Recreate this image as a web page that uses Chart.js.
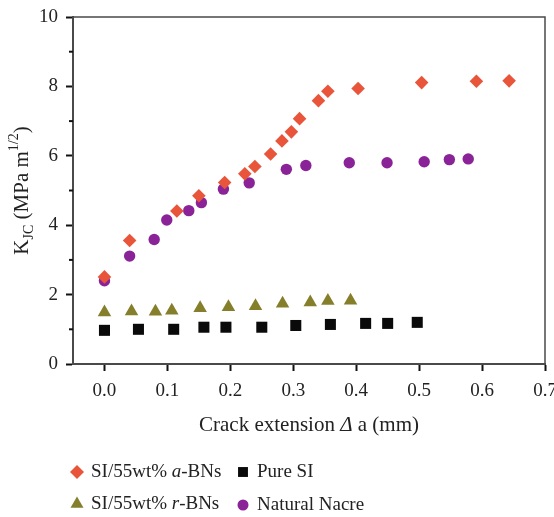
<!DOCTYPE html>
<html>
<head>
<meta charset="utf-8">
<script src="https://cdn.jsdelivr.net/npm/chart.js@4"></script>
<style>
  html, body { margin: 0; padding: 0; background: #fff; }
  #wrap { width: 554px; height: 517px; }
</style>
</head>
<body>
<div id="wrap"><canvas id="kjc" width="554" height="517"></canvas></div>
<script>
const ctx = document.getElementById('kjc');
const FONT = '"Liberation Serif", "DejaVu Serif", serif';

// tick labels
const xTicks = [0, 0.1, 0.2, 0.3, 0.4, 0.5, 0.6, 0.7];
const yTicks = [0, 2, 4, 6, 8, 10];
const yMinor = [1, 3, 5, 7, 9];

// SI/55wt% a-BNs
const aBNsX = [0, 0.040, 0.115, 0.150, 0.191, 0.223, 0.239, 0.264, 0.282, 0.297, 0.310, 0.340, 0.355, 0.403, 0.504, 0.591, 0.643];
const aBNsY = [2.51, 3.56, 4.41, 4.85, 5.23, 5.48, 5.69, 6.05, 6.43, 6.69, 7.07, 7.59, 7.86, 7.94, 8.11, 8.15, 8.16];
// Pure SI
const pureX = [0, 0.054, 0.110, 0.158, 0.193, 0.250, 0.304, 0.359, 0.415, 0.450, 0.497];
const pureY = [0.97, 1.00, 1.00, 1.06, 1.06, 1.06, 1.11, 1.14, 1.17, 1.17, 1.20];
// SI/55wt% r-BNs
const rBNsX = [0, 0.043, 0.081, 0.107, 0.152, 0.197, 0.240, 0.283, 0.327, 0.355, 0.391];
const rBNsY = [1.49, 1.52, 1.51, 1.54, 1.61, 1.64, 1.67, 1.74, 1.78, 1.82, 1.83];
// Natural Nacre
const nacreX = [0, 0.040, 0.079, 0.099, 0.134, 0.154, 0.189, 0.230, 0.289, 0.320, 0.389, 0.449, 0.508, 0.548, 0.578];
const nacreY = [2.40, 3.11, 3.59, 4.15, 4.42, 4.65, 5.04, 5.22, 5.61, 5.72, 5.80, 5.80, 5.83, 5.89, 5.91];

const orange = '#e8553a';
const black = '#0a0a0a';
const olive = '#857f2c';
const purple = '#8a2398';
const axisColor = '#4a4a4a';
const tickColor = '#111';
const textColor = '#222';

function pts(xs, ys) {
    return xs.map((x, i) => ({ x: x, y: ys[i] }));
}

// frame, minor ticks, axis titles and legend
const decor = {
    id: 'decor',
    afterDraw(chart) {
        const c = chart.ctx;
        const a = chart.chartArea;
        const ys = chart.scales.y;
        c.save();
        c.strokeStyle = axisColor;
        c.lineWidth = 1.5;
        c.beginPath();
        c.moveTo(a.left, a.top);
        c.lineTo(a.right, a.top);
        c.lineTo(a.right, a.bottom);
        c.stroke();
        c.strokeStyle = tickColor;
        c.lineWidth = 2;
        yMinor.forEach(v => {
            const py = ys.getPixelForValue(v);
            c.beginPath();
            c.moveTo(a.left - 4, py);
            c.lineTo(a.left, py);
            c.stroke();
        });

        c.fillStyle = textColor;
        c.textBaseline = 'alphabetic';

        // x title
        const parts = [
            ['Crack extension ', ''],
            ['\u0394', 'italic '],
            [' a (mm)', '']
        ];
        const xs = 21;
        let w = 0;
        parts.forEach(p => { c.font = p[1] + xs + 'px ' + FONT; w += c.measureText(p[0]).width; });
        let x = (a.left + a.right) / 2 - w / 2;
        parts.forEach(p => {
            c.font = p[1] + xs + 'px ' + FONT;
            c.fillText(p[0], x, 431);
            x += c.measureText(p[0]).width;
        });

        // y title: K_JC (MPa m^1/2)
        const yparts = [
            ['K', 21, 0],
            ['JC', 14, 5],
            [' (MPa m', 21, 0],
            ['1/2', 14, -10],
            [')', 21, 0]
        ];
        w = 0;
        yparts.forEach(p => { c.font = p[1] + 'px ' + FONT; w += c.measureText(p[0]).width; });
        c.translate(28, (a.top + a.bottom) / 2);
        c.rotate(-Math.PI / 2);
        x = -w / 2;
        yparts.forEach(p => {
            c.font = p[1] + 'px ' + FONT;
            c.fillText(p[0], x, p[2]);
            x += c.measureText(p[0]).width;
        });
        c.setTransform(1, 0, 0, 1, 0, 0);

        // legend
        const items = [
            { ds: 0, px: 77, py: 472, r: 7, parts: [['SI/55wt% ', ''], ['a', 'italic '], ['-BNs', '']] },
            { ds: 1, px: 243, py: 472, r: 7, parts: [['Pure SI', '']] },
            { ds: 2, px: 77, py: 504, r: 7.5, parts: [['SI/55wt% ', ''], ['r', 'italic '], ['-BNs', '']] },
            { ds: 3, px: 243, py: 505, r: 5.5, parts: [['Natural Nacre', '']] }
        ];
        items.forEach(it => {
            const d = chart.data.datasets[it.ds];
            c.fillStyle = d.backgroundColor;
            Chart.helpers.drawPoint(c, { pointStyle: d.pointStyle, radius: it.r, rotation: 0, borderWidth: 0 }, it.px, it.py);
            c.fillStyle = textColor;
            let tx = it.px + 14;
            it.parts.forEach(p => {
                c.font = p[1] + '19px ' + FONT;
                c.fillText(p[0], tx, it.py + 5);
                tx += c.measureText(p[0]).width;
            });
        });
        c.restore();
    }
};

new Chart(ctx, {
    type: 'scatter',
    data: {
        datasets: [
            { label: 'SI/55wt% a-BNs', data: pts(aBNsX, aBNsY), pointStyle: 'rectRot', pointRadius: 6.8, backgroundColor: orange, borderWidth: 0 },
            { label: 'Pure SI', data: pts(pureX, pureY), pointStyle: 'rect', pointRadius: 7.8, backgroundColor: black, borderWidth: 0 },
            { label: 'SI/55wt% r-BNs', data: pts(rBNsX, rBNsY), pointStyle: 'triangle', pointRadius: 7.8, backgroundColor: olive, borderWidth: 0 },
            { label: 'Natural Nacre', data: pts(nacreX, nacreY), pointStyle: 'circle', pointRadius: 5.7, backgroundColor: purple, borderWidth: 0 }
        ]
    },
    options: {
        responsive: false,
        animation: false,
        layout: { padding: { top: 17, right: 9, left: 0, bottom: 0 } },
        plugins: {
            legend: { display: false },
            tooltip: { enabled: false }
        },
        scales: {
            x: {
                type: 'linear',
                min: -0.05,
                max: 0.7,
                afterBuildTicks: s => { s.ticks = xTicks.map(v => ({ value: v })); },
                afterFit: s => { s.height = 153; s.paddingRight = 0; s.paddingLeft = 0; },
                grid: { drawOnChartArea: false, drawTicks: true, tickLength: 7, tickColor: tickColor, tickWidth: 2 },
                border: { color: axisColor, width: 2 },
                ticks: {
                    padding: 9,
                    color: textColor,
                    font: { family: FONT, size: 19 },
                    maxRotation: 0,
                    callback: v => Number(v).toFixed(1)
                }
            },
            y: {
                type: 'linear',
                min: 0,
                max: 10,
                afterBuildTicks: s => { s.ticks = yTicks.map(v => ({ value: v })); },
                afterFit: s => { s.width = 73; s.paddingTop = 0; s.paddingBottom = 0; },
                grid: { drawOnChartArea: false, drawTicks: true, tickLength: 7, tickColor: tickColor, tickWidth: 2 },
                border: { color: axisColor, width: 2 },
                ticks: {
                    padding: 8,
                    color: textColor,
                    font: { family: FONT, size: 19 },
                    callback: v => String(v)
                }
            }
        }
    },
    plugins: [decor]
});
</script>
</body>
</html>
